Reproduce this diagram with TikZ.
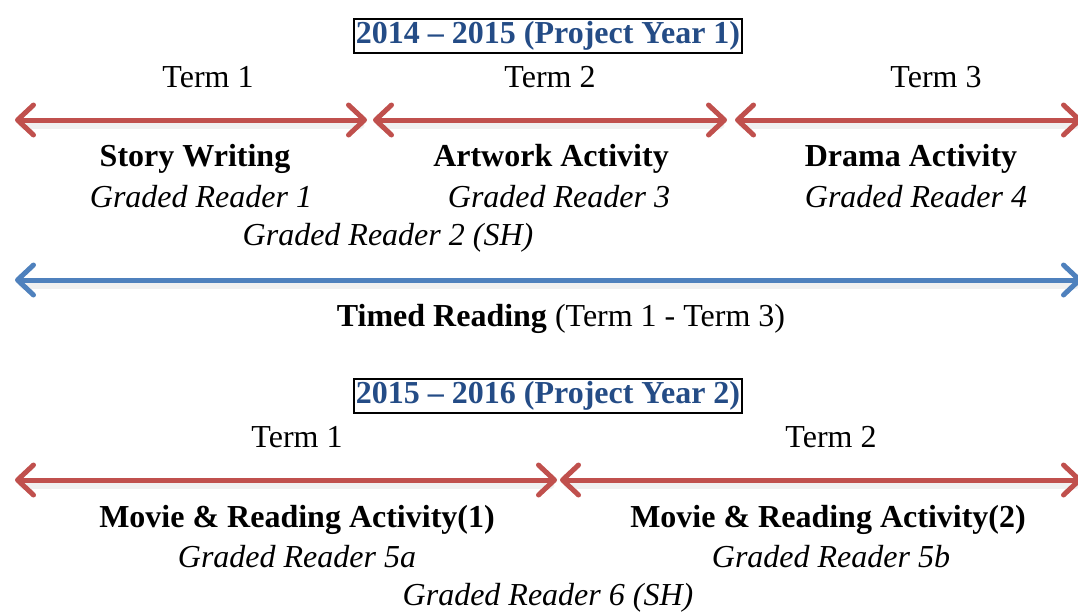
\documentclass[tikz,border=0pt]{standalone}
\usepackage{fontspec}
\setmainfont{Liberation Serif}
\usetikzlibrary{arrows.meta}
\definecolor{arrred}{RGB}{192,80,77}
\definecolor{arrblue}{RGB}{79,129,189}
\definecolor{titleblue}{RGB}{36,76,134}
\begin{document}
\begin{tikzpicture}[x=1pt,y=-1pt,
  every node/.style={inner sep=0pt,font=\fontsize{32}{36}\selectfont},
  yearbox/.style={draw=black,line width=2pt,inner xsep=1.5pt,inner ysep=2.5pt,text=titleblue,font=\fontsize{32}{36}\selectfont\bfseries},
  lbl/.style={},
  act/.style={font=\fontsize{32}{36}\selectfont\bfseries},
  book/.style={font=\fontsize{32}{36}\selectfont\itshape},
  span/.style={line width=5pt,{Straight Barb[length=16pt,width=30pt,round]}-{Straight Barb[length=16pt,width=30pt,round]}},
  redspan/.style={span,draw=arrred},
  bluespan/.style={span,draw=arrblue},
  shadow/.style={line width=7pt,draw=black,opacity=0.06,line cap=round}
]
\useasboundingbox (0,0) rectangle (1078,613);

% ---------- Year 1 ----------
\node[yearbox] (y1) at (548,36) {2014 -- 2015 (Project Year 1)};
\node[lbl] (t11) at (208,77) {Term 1};
\node[lbl] (t12) at (550,77) {Term 2};
\node[lbl] (t13) at (936,77) {Term 3};

\coordinate (a1l) at (15,120);
\coordinate (a1r) at (367,120);
\coordinate (a2l) at (373,120);
\coordinate (a2r) at (727,120);
\coordinate (a3l) at (735,120);
\coordinate (a3r) at (1082,120);

\draw[shadow] ([shift={(8,5)}]a1l) -- ([shift={(-6,5)}]a1r);
\draw[shadow] ([shift={(8,5)}]a2l) -- ([shift={(-6,5)}]a2r);
\draw[shadow] ([shift={(8,5)}]a3l) -- ([shift={(-6,5)}]a3r);
\draw[redspan] (a1l) -- (a1r);
\draw[redspan] (a2l) -- (a2r);
\draw[redspan] (a3l) -- (a3r);

\node[act] (sw) at (195,159) {Story Writing};
\node[act] (aa) at (551,159) {Artwork Activity};
\node[act] (da) at (911,159) {Drama Activity};
\node[book] (g1) at (201,197) {Graded Reader 1};
\node[book] (g3) at (559,197) {Graded Reader 3};
\node[book] (g4) at (916,197) {Graded Reader 4};
\node[book] (g2) at (388,238) {Graded Reader 2 (SH)};

\coordinate (bl) at (15,280);
\coordinate (br) at (1082,280);
\draw[shadow] ([shift={(8,5)}]bl) -- ([shift={(-6,5)}]br);
\draw[bluespan] (bl) -- (br);
\node (tr) at (561,319) {\textbf{Timed Reading} (Term 1 - Term 3)};

% ---------- Year 2 ----------
\node[yearbox] (y2) at (548,396) {2015 -- 2016 (Project Year 2)};
\node[lbl] (t21) at (297,437) {Term 1};
\node[lbl] (t22) at (831,437) {Term 2};

\coordinate (b1l) at (15,480);
\coordinate (b1r) at (557,480);
\coordinate (b2l) at (560,480);
\coordinate (b2r) at (1082,480);
\draw[shadow] ([shift={(8,5)}]b1l) -- ([shift={(-6,5)}]b1r);
\draw[shadow] ([shift={(8,5)}]b2l) -- ([shift={(-6,5)}]b2r);
\draw[redspan] (b1l) -- (b1r);
\draw[redspan] (b2l) -- (b2r);

\node[act] (m1) at (297,520) {Movie \& Reading Activity(1)};
\node[act] (m2) at (828,520) {Movie \& Reading Activity(2)};
\node[book] (g5a) at (297,557) {Graded Reader 5a};
\node[book] (g5b) at (831,557) {Graded Reader 5b};
\node[book] (g6) at (548,598) {Graded Reader 6 (SH)};
\end{tikzpicture}
\end{document}
